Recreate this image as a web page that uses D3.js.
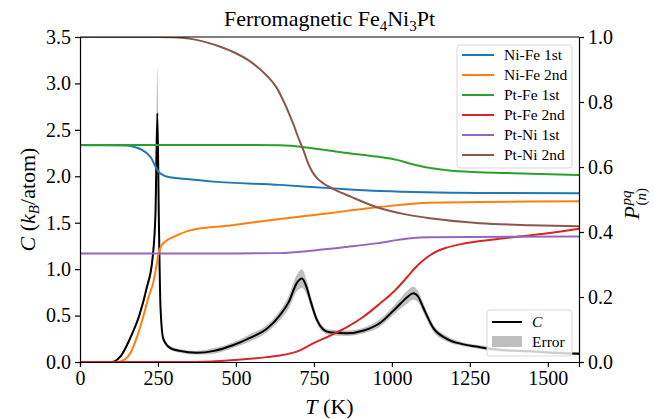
<!DOCTYPE html>
<html>
<head>
<meta charset="utf-8">
<script src="https://cdn.jsdelivr.net/npm/d3@7"></script>
<style>
body { margin: 0; background: #fff; }
text { font-family: "Liberation Serif", "DejaVu Serif", serif; fill: #000; }
</style>
</head>
<body>
<div id="container"></div>
<script>
// heat capacity C (left axis) and its error half-width
var cT   = [0, 100, 130, 160, 190, 214, 232, 242, 248, 253, 258, 267, 290, 320, 374, 430, 490, 545, 600, 640, 670, 695, 712, 725, 740, 760, 780, 800, 856, 910, 962, 1016, 1050, 1068, 1085, 1100, 1132, 1176, 1230, 1282, 1350, 1443, 1520, 1600];
var cVal = [0, 0, 0.06, 0.25, 0.5, 0.8, 1.1, 1.6, 2.68, 1.5, 0.6, 0.25, 0.15, 0.12, 0.1, 0.12, 0.18, 0.26, 0.36, 0.5, 0.65, 0.85, 0.9, 0.82, 0.65, 0.45, 0.35, 0.32, 0.31, 0.34, 0.42, 0.59, 0.7, 0.74, 0.7, 0.59, 0.37, 0.25, 0.19, 0.16, 0.13, 0.115, 0.1, 0.09];
var cErr = [0, 0, 0.01, 0.02, 0.03, 0.04, 0.06, 0.15, 0.49, 0.1, 0.04, 0.03, 0.02, 0.02, 0.02, 0.03, 0.03, 0.04, 0.04, 0.05, 0.07, 0.09, 0.1, 0.08, 0.06, 0.04, 0.03, 0.03, 0.03, 0.03, 0.04, 0.05, 0.07, 0.07, 0.06, 0.05, 0.04, 0.03, 0.02, 0.02, 0.02, 0.015, 0.015, 0.015];

// pair probabilities P (right axis)
var niFe1T = [0, 150, 180, 200, 214, 230, 240, 251, 265, 278, 350, 427, 641, 800, 962, 1282, 1600];
var niFe1  = [0.667, 0.666, 0.66, 0.652, 0.643, 0.625, 0.605, 0.586, 0.576, 0.571, 0.562, 0.555, 0.545, 0.535, 0.526, 0.52, 0.519];
var niFe2T = [0, 115, 140, 160, 182, 200, 220, 235, 245, 252, 260, 278, 300, 353, 481, 641, 750, 856, 962, 1122, 1282, 1600];
var niFe2  = [0, 0, 0.006, 0.025, 0.075, 0.13, 0.2, 0.245, 0.295, 0.335, 0.356, 0.374, 0.385, 0.405, 0.42, 0.44, 0.452, 0.465, 0.477, 0.49, 0.492, 0.495];
var ptFe1T = [0, 400, 641, 750, 856, 950, 1016, 1060, 1090, 1176, 1280, 1388, 1600];
var ptFe1  = [0.668, 0.668, 0.667, 0.657, 0.643, 0.632, 0.622, 0.61, 0.603, 0.59, 0.584, 0.581, 0.575];
var ptFe2T = [0, 350, 450, 599, 641, 705, 747, 800, 856, 910, 962, 1010, 1048, 1075, 1100, 1125, 1150, 1176, 1229, 1300, 1388, 1500, 1600];
var ptFe2  = [0, 0, 0.003, 0.015, 0.02, 0.036, 0.057, 0.08, 0.107, 0.14, 0.18, 0.22, 0.26, 0.29, 0.312, 0.33, 0.343, 0.352, 0.364, 0.374, 0.384, 0.396, 0.41];
var ptNi1T = [0, 500, 641, 750, 856, 950, 1016, 1060, 1122, 1600];
var ptNi1  = [0.334, 0.334, 0.335, 0.343, 0.354, 0.365, 0.375, 0.381, 0.384, 0.386];
var ptNi2T = [0, 250, 300, 350, 400, 450, 500, 550, 600, 630, 651, 670, 685, 700, 716, 730, 745, 760, 780, 801, 870, 962, 1040, 1122, 1282, 1443, 1600];
var ptNi2  = [1.0, 1.0, 0.999, 0.995, 0.985, 0.97, 0.95, 0.922, 0.88, 0.845, 0.806, 0.765, 0.73, 0.69, 0.653, 0.615, 0.585, 0.566, 0.55, 0.538, 0.508, 0.473, 0.455, 0.442, 0.427, 0.421, 0.418];

var seriesNames = ["Ni-Fe 1st", "Ni-Fe 2nd", "Pt-Fe 1st", "Pt-Fe 2nd", "Pt-Ni 1st", "Pt-Ni 2nd"];
var seriesColors = ["#1f77b4", "#ff7f0e", "#2ca02c", "#d62728", "#9467bd", "#8c564b"];

var xTicks = [0, 250, 500, 750, 1000, 1250, 1500];
var yTicks = [0, 0.5, 1, 1.5, 2, 2.5, 3, 3.5];
var y2Ticks = [0, 0.2, 0.4, 0.6, 0.8, 1.0];

var width = 654, height = 419;
var margin = {left: 80, right: 75, top: 37, bottom: 57};

var svg = d3.select("#container").append("svg")
    .attr("width", width)
    .attr("height", height);

var x = d3.scaleLinear().domain([0, 1600]).range([margin.left, width - margin.right]);
var y = d3.scaleLinear().domain([0, 3.5]).range([height - margin.bottom, margin.top]);
var y2 = d3.scaleLinear().domain([0, 1]).range([height - margin.bottom, margin.top]);

svg.append("clipPath").attr("id", "clip")
    .append("rect")
    .attr("x", x(0)).attr("y", y(3.5))
    .attr("width", x(1600) - x(0)).attr("height", y(0) - y(3.5));

var plot = svg.append("g").attr("clip-path", "url(#clip)");

// C with error band
var cData = cT.map(function (t, i) { return {t: t, v: cVal[i], e: cErr[i]}; });

plot.append("path")
    .datum(cData)
    .attr("fill", "#bfbfbf")
    .attr("d", d3.area()
        .x(function (d) { return x(d.t); })
        .y0(function (d) { return y(Math.max(0, d.v - d.e)); })
        .y1(function (d) { return y(d.v + d.e); })
        .curve(d3.curveMonotoneX));

plot.append("path")
    .datum(cData)
    .attr("fill", "none")
    .attr("stroke", "#000")
    .attr("stroke-width", 2)
    .attr("d", d3.line()
        .x(function (d) { return x(d.t); })
        .y(function (d) { return y(d.v); })
        .curve(d3.curveMonotoneX));

// legend for C (lower right)
var leg1 = svg.append("g").attr("transform", "translate(487,310)");
leg1.append("rect").attr("width", 85).attr("height", 46).attr("rx", 3)
    .attr("fill", "#fff").attr("fill-opacity", 0.8)
    .attr("stroke", "#d9d9d9").attr("stroke-width", 1);
leg1.append("line").attr("x1", 5).attr("x2", 35).attr("y1", 12).attr("y2", 12)
    .attr("stroke", "#000").attr("stroke-width", 2);
leg1.append("text").attr("x", 45).attr("y", 17).style("font-size", "15.5px")
    .style("font-style", "italic").text("C");
leg1.append("rect").attr("x", 5).attr("y", 26).attr("width", 30).attr("height", 11)
    .attr("fill", "#bfbfbf");
leg1.append("text").attr("x", 45).attr("y", 37).style("font-size", "15.5px").text("Error");

// P lines
var pSeries = [
    [niFe1T, niFe1], [niFe2T, niFe2], [ptFe1T, ptFe1],
    [ptFe2T, ptFe2], [ptNi1T, ptNi1], [ptNi2T, ptNi2]
];

var pLine = d3.line()
    .x(function (d) { return x(d[0]); })
    .y(function (d) { return y2(d[1]); })
    .curve(d3.curveMonotoneX);

pSeries.forEach(function (s, i) {
    var pts = s[0].map(function (t, j) { return [t, s[1][j]]; });
    plot.append("path")
        .datum(pts)
        .attr("fill", "none")
        .attr("stroke", seriesColors[i])
        .attr("stroke-width", 2)
        .attr("d", pLine);
});

// legend for P (upper right)
var leg2 = svg.append("g").attr("transform", "translate(457,45)");
leg2.append("rect").attr("width", 115).attr("height", 123).attr("rx", 3)
    .attr("fill", "#fff").attr("fill-opacity", 0.8)
    .attr("stroke", "#d9d9d9").attr("stroke-width", 1);
seriesNames.forEach(function (n, i) {
    var yy = 10 + i * 20;
    leg2.append("line").attr("x1", 5).attr("x2", 37).attr("y1", yy).attr("y2", yy)
        .attr("stroke", seriesColors[i]).attr("stroke-width", 2);
    leg2.append("text").attr("x", 47).attr("y", yy + 5).style("font-size", "15.5px").text(n);
});

// axes
var fmt1 = d3.format(".1f");
svg.append("g")
    .attr("transform", "translate(0," + y(0) + ")")
    .call(d3.axisBottom(x).tickValues(xTicks).tickSize(5).tickPadding(4).tickFormat(d3.format("d")));
svg.append("g")
    .attr("transform", "translate(" + x(0) + ",0)")
    .call(d3.axisLeft(y).tickValues(yTicks).tickSize(5).tickPadding(4).tickFormat(fmt1));
svg.append("g")
    .attr("transform", "translate(" + x(1600) + ",0)")
    .call(d3.axisRight(y2).tickValues(y2Ticks).tickSize(5).tickPadding(4).tickFormat(fmt1));
svg.append("line")
    .attr("x1", x(0)).attr("x2", x(1600)).attr("y1", y(3.5)).attr("y2", y(3.5))
    .attr("stroke", "#000");

svg.selectAll(".domain").attr("stroke", "#000").attr("stroke-width", 1.2);
svg.selectAll(".tick line").attr("stroke", "#000").attr("stroke-width", 1.2);
svg.selectAll(".tick text").style("font-size", "20px").style("font-family", "'Liberation Serif', serif");

// title
var title = svg.append("text")
    .attr("x", (x(0) + x(1600)) / 2).attr("y", 26)
    .attr("text-anchor", "middle").style("font-size", "22px");
title.append("tspan").text("Ferromagnetic Fe");
title.append("tspan").attr("dy", 5).style("font-size", "15px").text("4");
title.append("tspan").attr("dy", -5).text("Ni");
title.append("tspan").attr("dy", 5).style("font-size", "15px").text("3");
title.append("tspan").attr("dy", -5).text("Pt");

// x label
var xl = svg.append("text")
    .attr("x", (x(0) + x(1600)) / 2).attr("y", 414)
    .attr("text-anchor", "middle").style("font-size", "22px");
xl.append("tspan").style("font-style", "italic").text("T");
xl.append("tspan").text(" (K)");

// y label
var yl = svg.append("text")
    .attr("transform", "translate(35," + (y(0) + y(3.5)) / 2 + ") rotate(-90)")
    .attr("text-anchor", "middle").style("font-size", "22px");
yl.append("tspan").style("font-style", "italic").text("C");
yl.append("tspan").text(" (");
yl.append("tspan").style("font-style", "italic").text("k");
yl.append("tspan").attr("dy", 4).style("font-size", "15px").style("font-style", "italic").text("B");
yl.append("tspan").attr("dy", -4).text("/atom)");

// right label P^{pq}_{(n)}
var rl = svg.append("g")
    .attr("transform", "translate(639," + ((y(0) + y(3.5)) / 2 + 20) + ") rotate(-90)");
rl.append("text").attr("x", 0).attr("y", 0).style("font-size", "22px")
    .style("font-style", "italic").text("P");
rl.append("text").attr("x", 14).attr("y", -8).style("font-size", "15px")
    .style("font-style", "italic").text("pq");
var sub = rl.append("text").attr("x", 14).attr("y", 7).style("font-size", "15px");
sub.append("tspan").text("(");
sub.append("tspan").style("font-style", "italic").text("n");
sub.append("tspan").text(")");
</script>
</body>
</html>
